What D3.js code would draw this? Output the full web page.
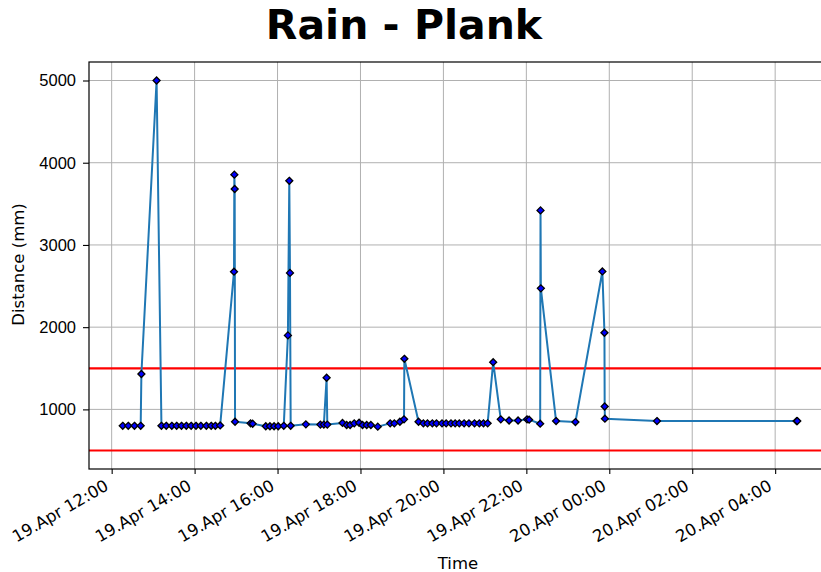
<!DOCTYPE html>
<html>
<head>
<meta charset="utf-8">
<script src="https://cdn.jsdelivr.net/npm/d3@7"></script>
<style>
  html, body { margin: 0; padding: 0; background: #fff; }
  svg { display: block; font-family: "DejaVu Sans", sans-serif; }
</style>
</head>
<body>
<svg id="chart" width="821" height="572"></svg>
<script>
// Plank sensor readings, 19-20 April
const times = [
  "04-19 12:16:00", "04-19 12:24:00", "04-19 12:33:00", "04-19 12:42:00", "04-19 12:43:00",
  "04-19 13:05:00", "04-19 13:12:00", "04-19 13:19:00", "04-19 13:27:00", "04-19 13:34:00",
  "04-19 13:41:00", "04-19 13:48:00", "04-19 13:55:00", "04-19 14:02:00", "04-19 14:09:00",
  "04-19 14:17:00", "04-19 14:24:00", "04-19 14:30:00", "04-19 14:37:00", "04-19 14:57:00",
  "04-19 14:57:30", "04-19 14:58:00", "04-19 14:58:30", "04-19 15:21:00", "04-19 15:24:00",
  "04-19 15:43:00", "04-19 15:49:00", "04-19 15:55:00", "04-19 16:01:00", "04-19 16:09:00",
  "04-19 16:15:00", "04-19 16:17:00", "04-19 16:18:00", "04-19 16:19:00", "04-19 16:41:00",
  "04-19 17:02:00", "04-19 17:07:00", "04-19 17:11:00", "04-19 17:12:00", "04-19 17:34:00",
  "04-19 17:40:00", "04-19 17:45:00", "04-19 17:51:00", "04-19 17:58:00", "04-19 18:03:00",
  "04-19 18:09:00", "04-19 18:15:00", "04-19 18:25:00", "04-19 18:43:00", "04-19 18:49:00",
  "04-19 18:57:00", "04-19 19:03:00", "04-19 19:03:30", "04-19 19:24:00", "04-19 19:31:00",
  "04-19 19:37:00", "04-19 19:44:00", "04-19 19:50:00", "04-19 19:58:00", "04-19 20:04:00",
  "04-19 20:11:00", "04-19 20:17:00", "04-19 20:23:00", "04-19 20:30:00", "04-19 20:37:00",
  "04-19 20:45:00", "04-19 20:52:00", "04-19 20:58:00", "04-19 21:04:00", "04-19 21:12:00",
  "04-19 21:23:00", "04-19 21:35:00", "04-19 21:48:00", "04-19 22:01:00", "04-19 22:04:00",
  "04-19 22:20:00", "04-19 22:20:30", "04-19 22:21:00", "04-19 22:43:00", "04-19 23:11:00",
  "04-19 23:50:00", "04-19 23:53:00", "04-19 23:53:20", "04-19 23:53:40", "04-20 01:09:00",
  "04-20 04:31:00", "04-20 04:32:00"
];
const distances = [
  800, 800, 800, 800, 1430,
  5000, 800, 800, 800, 800,
  800, 800, 800, 800, 800,
  800, 800, 800, 805, 2675,
  3855, 3680, 850, 830, 825,
  795, 795, 795, 795, 800,
  1900, 3780, 2660, 800, 818,
  815, 815, 1385, 815, 835,
  810, 810, 830, 838, 810,
  810, 810, 790, 830, 830,
  850, 879, 1615, 850, 830,
  830, 830, 830, 830, 830,
  830, 830, 830, 830, 830,
  830, 830, 830, 830, 1574,
  879, 865, 865, 879, 875,
  826, 3420, 2472, 858, 846,
  2678, 1932, 1035, 887, 858,
  858, 858
];
const limitLines = [1500, 500];
const yTicks = [1000, 2000, 3000, 4000, 5000];
const titleText = "Rain - Plank";
const xLabel = "Time";
const yLabel = "Distance (mm)";

const parse = d3.timeParse("%Y-%m-%d %H:%M:%S");
const data = times.map((t, i) => ({ t: parse("2021-" + t), v: distances[i] }));

const svg = d3.select("#chart");
const plot = { left: 89, right: 831, top: 62, bottom: 469 };
const fs = 16.5;

// 5% padding on both axes; the limit lines count toward the y extent
const [t0, t1] = d3.extent(data, d => d.t);
const tPad = (t1 - t0) * 0.05;
const yMin = Math.min(d3.min(distances), d3.min(limitLines));
const yMax = Math.max(d3.max(distances), d3.max(limitLines));
const yPad = (yMax - yMin) * 0.05;

const x = d3.scaleTime()
  .domain([new Date(+t0 - tPad), new Date(+t1 + tPad)])
  .range([plot.left, plot.right]);
const y = d3.scaleLinear()
  .domain([yMin - yPad, yMax + yPad])
  .range([plot.bottom, plot.top]);

const xTickVals = x.ticks(d3.timeHour.every(2));
const fmt = d3.timeFormat("%d.%b %H:%M");

// grid
const grid = svg.append("g").attr("stroke", "#b0b0b0").attr("stroke-width", 1);
grid.selectAll(".gx").data(xTickVals).join("line")
  .attr("x1", d => x(d)).attr("x2", d => x(d))
  .attr("y1", plot.top).attr("y2", plot.bottom);
grid.selectAll(".gy").data(yTicks).join("line")
  .attr("x1", plot.left).attr("x2", plot.right)
  .attr("y1", d => y(d)).attr("y2", d => y(d));

// limit lines
svg.append("g").selectAll("line").data(limitLines).join("line")
  .attr("x1", plot.left).attr("x2", plot.right)
  .attr("y1", d => y(d)).attr("y2", d => y(d))
  .attr("stroke", "#ff0000").attr("stroke-width", 2.2);

// series line
svg.append("path").datum(data)
  .attr("fill", "none")
  .attr("stroke", "#1f77b4")
  .attr("stroke-width", 2)
  .attr("stroke-linejoin", "round")
  .attr("d", d3.line().x(d => x(d.t)).y(d => y(d.v)));

// diamond markers
const r = 3.5;
svg.append("g").selectAll("path").data(data).join("path")
  .attr("d", d => {
    const cx = x(d.t), cy = y(d.v);
    return `M${cx},${cy - r}L${cx + r},${cy}L${cx},${cy + r}L${cx - r},${cy}Z`;
  })
  .attr("fill", "#0000ff")
  .attr("stroke", "#000")
  .attr("stroke-width", 1.3);

// frame (right side runs past the visible edge)
svg.append("rect")
  .attr("x", plot.left).attr("y", plot.top)
  .attr("width", plot.right - plot.left).attr("height", plot.bottom - plot.top)
  .attr("fill", "none").attr("stroke", "#000").attr("stroke-width", 1.2);

// x axis: ticks plus slanted date labels
const xAxis = svg.append("g")
  .attr("transform", `translate(0,${plot.bottom})`)
  .call(d3.axisBottom(x).tickValues(xTickVals).tickFormat("").tickSize(5).tickSizeOuter(0));
xAxis.select(".domain").remove();
xAxis.selectAll("line").attr("stroke", "#000").attr("stroke-width", 1.1);
svg.append("g").selectAll("text").data(xTickVals).join("text")
  .attr("transform", d => `translate(${x(d) - 2},${plot.bottom + 20}) rotate(-30)`)
  .attr("text-anchor", "end")
  .attr("font-size", fs)
  .attr("fill", "#000")
  .text(d => fmt(d));

const yAxis = svg.append("g")
  .attr("transform", `translate(${plot.left},0)`)
  .call(d3.axisLeft(y).tickValues(yTicks).tickFormat(d3.format("d")).tickSize(6).tickSizeOuter(0));
yAxis.select(".domain").remove();
yAxis.selectAll("line").attr("stroke", "#000").attr("stroke-width", 1.1);
yAxis.selectAll("text").attr("font-size", fs).attr("fill", "#000").attr("x", -13);

// labels
svg.append("text")
  .attr("x", (plot.left + plot.right) / 2 - 2).attr("y", 569)
  .attr("text-anchor", "middle").attr("font-size", fs).text(xLabel);
svg.append("text")
  .attr("transform", `translate(24,${(plot.top + plot.bottom) / 2 - 1}) rotate(-90)`)
  .attr("text-anchor", "middle").attr("font-size", fs).text(yLabel);
svg.append("text")
  .attr("x", 404).attr("y", 39)
  .attr("text-anchor", "middle").attr("font-size", 41).attr("font-weight", "bold")
  .text(titleText);
</script>
</body>
</html>
